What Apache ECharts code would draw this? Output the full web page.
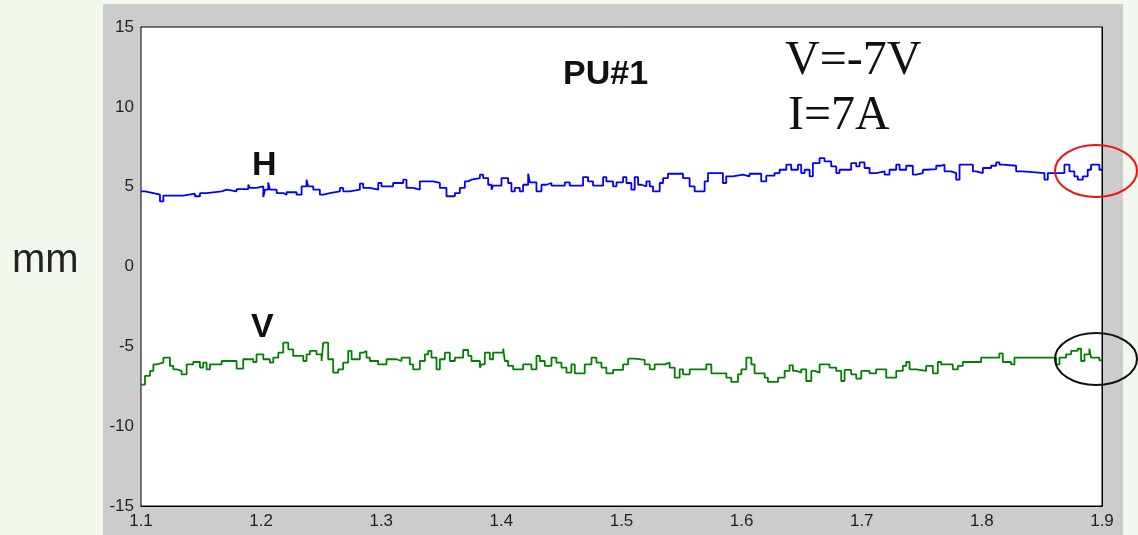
<!DOCTYPE html>
<html>
<head>
<meta charset="utf-8">
<script src="https://cdn.jsdelivr.net/npm/echarts@6/dist/echarts.min.js"></script>
<style>
html,body{margin:0;padding:0;background:#f2f8ed;}
#c{width:1138px;height:535px;}
</style>
</head>
<body>
<div id="c"></div>
<script>
// ---- data (step traces: x = step start, y = held value, mm) ----
var hX = [1.1,1.1033,1.1103,1.1158,1.1186,1.1352,1.1449,1.1491,1.1546,1.1671,1.1713,1.1796,1.1893,1.1907,1.1962,1.2018,1.2032,1.2059,1.2073,1.2129,1.2184,1.2212,1.2295,1.2337,1.2378,1.2392,1.2434,1.2489,1.2517,1.2572,1.2656,1.2683,1.2739,1.2822,1.285,1.2905,1.2975,1.3002,1.3099,1.3183,1.321,1.3266,1.3321,1.3432,1.3488,1.3543,1.3613,1.3654,1.3696,1.3724,1.3751,1.3821,1.3848,1.389,1.3918,1.3931,1.4001,1.4056,1.4084,1.4112,1.4153,1.4181,1.4223,1.4237,1.4292,1.4334,1.4375,1.4417,1.4528,1.4569,1.468,1.4722,1.4763,1.4847,1.4874,1.493,1.4958,1.5013,1.5041,1.5082,1.511,1.5138,1.5165,1.5207,1.5235,1.5262,1.5318,1.5346,1.5387,1.5512,1.5567,1.5609,1.5692,1.572,1.5844,1.5872,1.5927,1.6011,1.6066,1.6163,1.6205,1.6274,1.6316,1.6372,1.6413,1.6469,1.6496,1.6524,1.6566,1.6593,1.6649,1.669,1.6746,1.6788,1.6815,1.6912,1.6954,1.6982,1.7023,1.7065,1.712,1.719,1.7231,1.7287,1.7315,1.737,1.7425,1.7453,1.7509,1.7536,1.762,1.7661,1.7689,1.7744,1.7786,1.7814,1.7925,1.7952,1.8008,1.8077,1.8119,1.8146,1.8174,1.8285,1.8341,1.8521,1.8549,1.8687,1.8729,1.877,1.8798,1.884,1.8881,1.8909,1.8978,1.9];
var hY = [4.71,4.60,4.50,4.08,4.44,4.56,4.40,4.60,4.71,4.81,4.71,4.85,5.12,4.92,5.02,4.35,4.81,5.27,4.81,4.60,4.50,4.65,4.50,5.02,5.44,5.02,4.81,4.50,4.60,4.71,4.92,4.71,4.81,5.19,4.92,4.81,5.23,5.02,5.23,5.44,4.92,4.81,5.33,5.23,4.92,4.40,4.60,4.92,5.33,5.44,5.54,5.75,5.54,5.12,4.81,5.06,5.54,5.23,4.71,4.92,4.71,5.12,5.81,5.27,4.71,5.12,5.23,5.06,5.27,5.06,5.60,5.33,5.06,5.60,5.33,5.02,5.27,5.60,5.23,4.81,5.60,5.12,5.02,5.33,5.02,4.71,5.23,5.54,5.81,5.54,5.02,4.71,5.33,5.85,5.23,5.65,5.75,5.65,5.81,5.33,5.69,5.85,6.06,6.38,6.06,6.38,5.85,6.06,5.65,6.48,6.79,6.58,6.27,5.85,6.06,6.48,6.27,6.52,6.17,5.85,5.96,5.75,6.06,6.38,6.06,6.31,5.75,5.85,6.06,6.10,6.31,6.38,5.96,5.85,5.44,6.38,5.96,5.85,6.17,6.31,6.52,6.38,6.31,5.96,5.85,5.44,5.85,6.38,5.96,5.65,5.44,5.65,6.06,6.38,6.06,6.06];

var vX = [1.1,1.1033,1.1075,1.1103,1.113,1.1186,1.1241,1.1269,1.1297,1.1338,1.138,1.1435,1.1491,1.1518,1.1546,1.1574,1.1671,1.1796,1.1851,1.1935,1.1962,1.2018,1.2073,1.2101,1.2143,1.2184,1.2226,1.2267,1.2351,1.2378,1.2406,1.2461,1.2503,1.2517,1.2558,1.26,1.2642,1.2683,1.2725,1.2753,1.2822,1.285,1.2877,1.2905,1.2975,1.3044,1.3127,1.3169,1.3238,1.3266,1.3321,1.3363,1.3391,1.3418,1.346,1.3488,1.3529,1.3571,1.3613,1.3682,1.3724,1.3751,1.3821,1.3834,1.3862,1.3904,1.3931,1.4015,1.4029,1.4056,1.4098,1.4181,1.425,1.4292,1.432,1.4361,1.4417,1.4458,1.45,1.4542,1.4583,1.4611,1.4694,1.475,1.4791,1.4833,1.4874,1.493,1.5013,1.5055,1.511,1.5193,1.5235,1.5276,1.536,1.5401,1.5443,1.5484,1.5512,1.5568,1.5706,1.5748,1.5873,1.5914,1.597,1.5998,1.6039,1.6081,1.6108,1.6192,1.6219,1.6303,1.6358,1.6399,1.6427,1.6455,1.6496,1.6538,1.658,1.6607,1.6649,1.6732,1.6788,1.6829,1.6857,1.6912,1.6954,1.6996,1.7065,1.712,1.7204,1.7287,1.7342,1.737,1.7398,1.7453,1.7536,1.7592,1.7633,1.7661,1.7758,1.78,1.7841,1.7994,1.8146,1.8174,1.8243,1.8271,1.8618,1.8646,1.8701,1.8743,1.8798,1.8826,1.8854,1.8895,1.8909,1.8978,1.9];
var vY = [-7.40,-6.85,-6.54,-6.13,-6.02,-5.71,-6.23,-6.44,-6.54,-6.75,-6.13,-5.98,-6.33,-6.02,-6.44,-6.13,-5.92,-6.40,-5.81,-5.98,-5.50,-5.81,-6.02,-5.71,-5.40,-4.77,-5.19,-5.60,-5.92,-5.50,-5.29,-5.50,-5.92,-4.77,-5.81,-6.65,-6.44,-6.02,-5.29,-5.81,-5.40,-5.29,-5.71,-5.92,-6.13,-5.81,-5.92,-5.71,-6.13,-6.44,-5.92,-5.50,-5.29,-5.71,-6.44,-5.81,-5.40,-5.92,-5.71,-5.23,-5.60,-5.92,-6.33,-6.13,-5.40,-5.81,-5.40,-5.15,-5.92,-6.23,-6.44,-6.13,-6.44,-5.60,-5.92,-6.23,-5.71,-6.02,-6.33,-6.65,-6.13,-6.69,-6.13,-5.71,-6.02,-6.33,-6.69,-6.48,-6.13,-5.77,-5.85,-6.13,-6.44,-6.13,-6.02,-6.33,-6.96,-6.44,-6.75,-6.44,-6.13,-6.69,-6.96,-7.23,-6.75,-6.44,-5.71,-6.13,-6.69,-6.96,-7.23,-6.96,-6.54,-6.19,-6.54,-6.65,-6.44,-7.17,-6.54,-6.65,-6.13,-6.33,-6.54,-7.17,-6.48,-6.75,-7.02,-6.54,-6.69,-6.44,-6.96,-6.54,-6.23,-5.98,-6.44,-6.54,-6.23,-6.69,-5.98,-6.13,-6.44,-6.23,-5.98,-5.71,-5.44,-5.98,-6.13,-5.71,-6.13,-5.71,-5.50,-5.29,-5.15,-5.92,-5.50,-5.15,-5.71,-5.88,-5.88];

var xTicks = {min:1.1, max:1.9, step:0.1};
var yTicks = {min:-15, max:15, step:5};
var hLabel = 'H', vLabel = 'V', title = 'PU#1', unit = 'mm';
var note1 = 'V=-7V', note2 = 'I=7A';

function pairs(xs, ys){ return xs.map(function(x,i){ return [x, ys[i]]; }); }

var chart = echarts.init(document.getElementById('c'), null, {renderer:'canvas'});
var tickFont = {fontFamily:'Liberation Sans, Arial, sans-serif', fontSize:17, color:'#1e1e28'};
function xAx(pos, show){
  return {type:'value', position:pos, min:xTicks.min, max:xTicks.max, interval:xTicks.step,
    axisLine:{show:true, onZero:false, lineStyle:{color:'#000', width:1}},
    axisTick:{show:true, inside:true, length:9, lineStyle:{color:'#000', width:1}},
    axisLabel:Object.assign({show:show, margin:7, formatter:function(v){return v.toFixed(1);}}, tickFont),
    splitLine:{show:false}};
}
function yAx(pos, show){
  return {type:'value', position:pos, min:yTicks.min, max:yTicks.max, interval:yTicks.step,
    axisLine:{show:true, onZero:false, lineStyle:{color:'#000', width:1}},
    axisTick:{show:true, inside:true, length:9, lineStyle:{color:'#000', width:1}},
    axisLabel:Object.assign({show:show, margin:7}, tickFont),
    splitLine:{show:false}};
}
chart.setOption({
  animation:false,
  backgroundColor:'#f2f8ed',
  grid:{left:141, top:27, width:961, height:479, show:true, backgroundColor:'#ffffff', borderColor:'#000', borderWidth:1, z:1},
  xAxis:[xAx('bottom', true), xAx('top', false)],
  yAxis:[yAx('left', true), yAx('right', false)],
  series:[
    {type:'line', name:hLabel, step:'end', showSymbol:false, symbol:'none', data:pairs(hX,hY),
     lineStyle:{color:'#0000ff', width:1.8}, itemStyle:{color:'#0000ff'}, z:3},
    {type:'line', name:vLabel, step:'end', showSymbol:false, symbol:'none', data:pairs(vX,vY),
     lineStyle:{color:'#008000', width:1.8}, itemStyle:{color:'#008000'}, z:3}
  ],
  graphic:[
    {type:'rect', z:-1, shape:{x:103, y:4, width:1020, height:531}, style:{fill:'#cccccc'}},
    {type:'text', z:50, left:12, top:241, style:{text:unit, font:'40px "Liberation Sans", Arial, sans-serif', fill:'#222'}},
    {type:'text', z:50, left:563, top:58, style:{text:title, font:'bold 34px "Liberation Sans", Arial, sans-serif', fill:'#111'}},
    {type:'text', z:50, left:785, top:37, style:{text:note1, font:'48px "Liberation Serif", "DejaVu Serif", serif', fill:'#111'}},
    {type:'text', z:50, left:788, top:92, style:{text:note2, font:'48px "Liberation Serif", "DejaVu Serif", serif', fill:'#111'}},
    {type:'text', z:50, left:252, top:149, style:{text:hLabel, font:'bold 34px "Liberation Sans", Arial, sans-serif', fill:'#111'}},
    {type:'text', z:50, left:251, top:311, style:{text:vLabel, font:'bold 34px "Liberation Sans", Arial, sans-serif', fill:'#111'}},
    {type:'ellipse', z:60, shape:{cx:1096, cy:171, rx:41, ry:26}, style:{fill:'none', stroke:'#ee1111', lineWidth:2}},
    {type:'ellipse', z:60, shape:{cx:1096, cy:359, rx:41, ry:26}, style:{fill:'none', stroke:'#111', lineWidth:2}}
  ]
});
</script>
</body>
</html>
